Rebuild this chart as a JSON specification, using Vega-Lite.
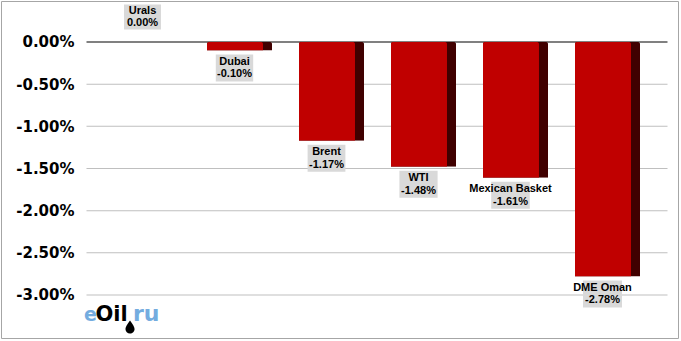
{
  "$schema": "https://vega.github.io/schema/vega-lite/v6.json",
  "width": 677,
  "height": 337,
  "autosize": {"type": "none"},
  "padding": {"left": 1, "top": 1, "right": 3, "bottom": 3},
  "background": "white",
  "config": {"view": {"stroke": "#A6A6A6", "strokeWidth": 1}},
  "datasets": {
    "oil": [
      {"name": "Urals", "value": 0},
      {"name": "Dubai", "value": -0.001},
      {"name": "Brent", "value": -0.0117},
      {"name": "WTI", "value": -0.0148},
      {"name": "Mexican Basket", "value": -0.0161},
      {"name": "DME Oman", "value": -0.0278}
    ],
    "grid": [{"g": -0.005}, {"g": -0.01}, {"g": -0.015}, {"g": -0.02}, {"g": -0.025}, {"g": -0.03}],
    "zero": [{"g": 0}],
    "logo": [{"e": "e", "oil": "Oil", "ru": "ru"}]
  },
  "layer": [
    {
      "data": {"name": "grid"},
      "mark": {"type": "tick", "orient": "horizontal", "size": 581, "thickness": 1, "xOffset": -46.5, "color": "#BFBFBF", "opacity": 1},
      "encoding": {
        "x": {"datum": "WTI", "type": "nominal",
          "scale": {"type": "band", "domain": ["Urals", "Dubai", "Brent", "WTI", "Mexican Basket", "DME Oman"], "paddingInner": 0.293, "paddingOuter": 0.826, "align": 0.75},
          "axis": null},
        "y": {"field": "g", "type": "quantitative",
          "scale": {"domain": [-0.0351, 0.00486], "nice": false, "zero": false},
          "axis": {"orient": "left", "offset": -86, "values": [0, -0.005, -0.01, -0.015, -0.02, -0.025, -0.03], "labelExpr": "replace(format(datum.value, '.2%'), '\u2212', '-')", "domain": false, "ticks": false, "tickSize": 0, "grid": false, "labelPadding": 13, "labelFont": "DejaVu Sans", "labelFontWeight": "bold", "labelFontSize": 15, "labelColor": "#000000", "title": null}}
      }
    },
    {
      "data": {"name": "zero"},
      "mark": {"type": "tick", "orient": "horizontal", "size": 581, "thickness": 2, "xOffset": -46.5, "color": "#808080", "opacity": 1},
      "encoding": {"x": {"datum": "WTI", "type": "nominal"}, "y": {"field": "g", "type": "quantitative"}}
    },
    {
      "data": {"name": "oil"},
      "encoding": {
        "x": {"field": "name", "type": "nominal", "sort": null},
        "y": {"field": "value", "type": "quantitative"}
      },
      "layer": [
        {"mark": {"type": "bar", "color": "#400000", "cornerRadiusEnd": 2}},
        {"mark": {"type": "bar", "color": "#C00000", "width": 56, "xOffset": -4.5, "cornerRadiusEnd": 2}},
        {
          "transform": [{"filter": "datum.value < 0"}],
          "mark": {"type": "tick", "orient": "horizontal", "thickness": 27, "yOffset": 17.5, "xOffset": -5, "color": "#D9D9D9", "opacity": 1},
          "encoding": {"size": {"field": "name", "type": "nominal", "scale": {"domain": ["Urals", "Dubai", "Brent", "WTI", "Mexican Basket", "DME Oman"], "range": [37, 39, 41, 40, 88, 63]}, "legend": null}}
        },
        {
          "transform": [{"filter": "datum.value == 0"}],
          "mark": {"type": "tick", "orient": "horizontal", "thickness": 25, "size": 37, "yOffset": -25, "xOffset": -5, "color": "#D9D9D9", "opacity": 1}
        },
        {
          "transform": [{"filter": "datum.value < 0"}],
          "mark": {"type": "text", "font": "Liberation Sans", "fontWeight": "bold", "fontSize": 11, "color": "#000000", "baseline": "middle", "yOffset": 11.5, "xOffset": -5},
          "encoding": {"text": {"field": "name"}}
        },
        {
          "transform": [{"filter": "datum.value < 0"}],
          "mark": {"type": "text", "font": "Liberation Sans", "fontWeight": "bold", "fontSize": 11, "color": "#000000", "baseline": "middle", "yOffset": 24, "xOffset": -5, "text": {"expr": "replace(format(datum.value, '.2%'), '\u2212', '-')"}}
        },
        {
          "transform": [{"filter": "datum.value == 0"}],
          "mark": {"type": "text", "font": "Liberation Sans", "fontWeight": "bold", "fontSize": 11, "color": "#000000", "baseline": "middle", "yOffset": -31, "xOffset": -5},
          "encoding": {"text": {"field": "name"}}
        },
        {
          "transform": [{"filter": "datum.value == 0"}],
          "mark": {"type": "text", "font": "Liberation Sans", "fontWeight": "bold", "fontSize": 11, "color": "#000000", "baseline": "middle", "yOffset": -19, "xOffset": -5, "text": {"expr": "format(datum.value, '.2%')"}}
        }
      ]
    },
    {
      "data": {"name": "logo"},
      "encoding": {"x": {"datum": "Urals", "type": "nominal"}, "y": {"datum": -0.03308, "type": "quantitative"}},
      "layer": [
        {"mark": {"type": "text", "font": "DejaVu Sans", "fontWeight": "bold", "fontSize": 19, "color": "#74ACDF", "align": "left", "baseline": "alphabetic", "dx": -63.5}, "encoding": {"text": {"field": "e", "type": "nominal"}}},
        {"mark": {"type": "text", "font": "DejaVu Sans", "fontWeight": "bold", "fontSize": 21, "color": "#000000", "align": "left", "baseline": "alphabetic", "dx": -52}, "encoding": {"text": {"field": "oil", "type": "nominal"}}},
        {"mark": {"type": "text", "font": "DejaVu Sans", "fontWeight": "bold", "fontSize": 22, "color": "#74ACDF", "align": "left", "baseline": "alphabetic", "dx": -14.5}, "encoding": {"text": {"field": "ru", "type": "nominal"}}},
        {"mark": {"type": "point", "filled": true, "color": "#000000", "opacity": 1, "size": 169, "xOffset": -17.5, "yOffset": 6, "shape": "M0,-1C0.45,-0.35,0.7,0,0.7,0.3A0.7,0.7,0,1,1,-0.7,0.3C-0.7,0,-0.45,-0.35,0,-1Z"}}
      ]
    }
  ]
}
